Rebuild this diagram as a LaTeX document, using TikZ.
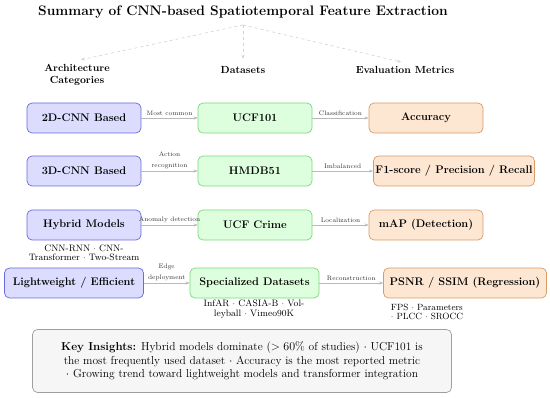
\documentclass[tikz,border=0pt]{standalone}
\usepackage{amsfonts, amsmath}
\usepackage{tikz}
\usepackage{amssymb}
\usetikzlibrary{arrows.meta}
\definecolor{archfill}{RGB}{220,220,255}
\definecolor{archline}{RGB}{105,105,225}
\definecolor{datafill}{RGB}{222,255,222}
\definecolor{dataline}{RGB}{120,215,120}
\definecolor{metrfill}{RGB}{253,230,210}
\definecolor{metrline}{RGB}{215,155,105}
\def\sep{$\cdot$}

\begin{document}
\begin{tikzpicture}[x=1pt,y=1pt,
  box/.style={rounded corners=5pt, line width=0.7pt, minimum height=30pt,
    minimum width=114pt, font=\fontsize{11}{13}\selectfont\bfseries, inner xsep=2pt},
  arch/.style={box, draw=archline, fill=archfill},
  data/.style={box, draw=dataline, fill=datafill},
  metr/.style={box, draw=metrline, fill=metrfill},
  head/.style={font=\fontsize{10.3}{12.5}\selectfont\bfseries, align=center},
  lbl/.style={font=\fontsize{6.5}{11}\selectfont, align=center, text=black!80, inner sep=2pt},
  note/.style={font=\fontsize{9.3}{9.6}\selectfont, align=center, inner sep=1pt},
  link/.style={-{Stealth[length=4pt,width=3pt]}, gray!55, line width=0.6pt},
  tree/.style={-{Stealth[length=4pt,width=3pt]}, gray!35, dashed, line width=0.6pt}]
\useasboundingbox (0,0) rectangle (550,398);

\node (title) at (243,386) {\fontsize{13.8}{16}\selectfont\bfseries Summary of CNN-based Spatiotemporal Feature Extraction};
\coordinate (root) at (243,373);

\node[head] (harch) at (77,323) {Architecture\\Categories};
\node[head] (hdata) at (243,328) {Datasets};
\node[head] (hmetr) at (405,328) {Evaluation Metrics};
\draw[tree, shorten >=4pt] (root) -- (harch.north);
\draw[tree, shorten >=4pt] (root) -- (hdata.north);
\draw[tree, shorten >=4pt] (root) -- (hmetr.north);

\node[arch] (a1) at (84,280) {2D-CNN Based};
\node[data] (d1) at (255,280) {UCF101};
\node[metr] (m1) at (426,280) {Accuracy};
\draw[link] (a1) -- node[lbl, above] {Most common} (d1);
\draw[link] (d1) -- node[lbl, above] {Classification} (m1);

\node[arch] (a2) at (84,227) {3D-CNN Based};
\node[data] (d2) at (255,227) {HMDB51};
\node[metr] (m2) at (454,227) {F1-score / Precision / Recall};
\draw[link] (a2) -- node[lbl, above] {Action\\recognition} (d2);
\draw[link] (d2) -- node[lbl, above] {Imbalanced} (m2);

\node[arch] (a3) at (84,173) {Hybrid Models};
\node[data] (d3) at (255,173) {UCF Crime};
\node[metr] (m3) at (426,173) {mAP (Detection)};
\draw[link] (a3) -- node[lbl, above] {Anomaly detection} (d3);
\draw[link] (d3) -- node[lbl, above] {Localization} (m3);
\node[note] (n3) at (84,145) {CNN-RNN \sep{} CNN-\\Transformer \sep{} Two-Stream};

\node[arch, minimum width=139pt] (a4) at (74,115) {Lightweight / Efficient};
\node[data, minimum width=129pt] (d4) at (254.5,115) {Specialized Datasets};
\node[metr, minimum width=163pt] (m4) at (465,115) {PSNR / SSIM (Regression)};
\draw[link] (a4) -- node[lbl, above] {Edge\\deployment} (d4);
\draw[link] (d4) -- node[lbl, above] {Reconstruction} (m4);
\node[note] (n4) at (254,89) {InfAR \sep{} CASIA-B \sep{} Vol-\\leyball \sep{} Vimeo90K};
\node[note, align=left, font=\fontsize{9}{9.6}\selectfont] (n5) at (427,86) {FPS \sep{} Parameters\\\sep{} PLCC \sep{} SROCC};

\node[rounded corners=5pt, draw=gray!75, fill=gray!7, line width=0.7pt,
  minimum width=419pt, minimum height=63pt, align=center,
  font=\fontsize{11.5}{13.5}\selectfont] (keys) at (242,37)
  {\textbf{Key Insights:} Hybrid models dominate ($>60\%$ of studies) \sep{} UCF101 is\\
   the most frequently used dataset \sep{} Accuracy is the most reported metric\\
   \sep{} Growing trend toward lightweight models and transformer integration};
\end{tikzpicture}
\end{document}
